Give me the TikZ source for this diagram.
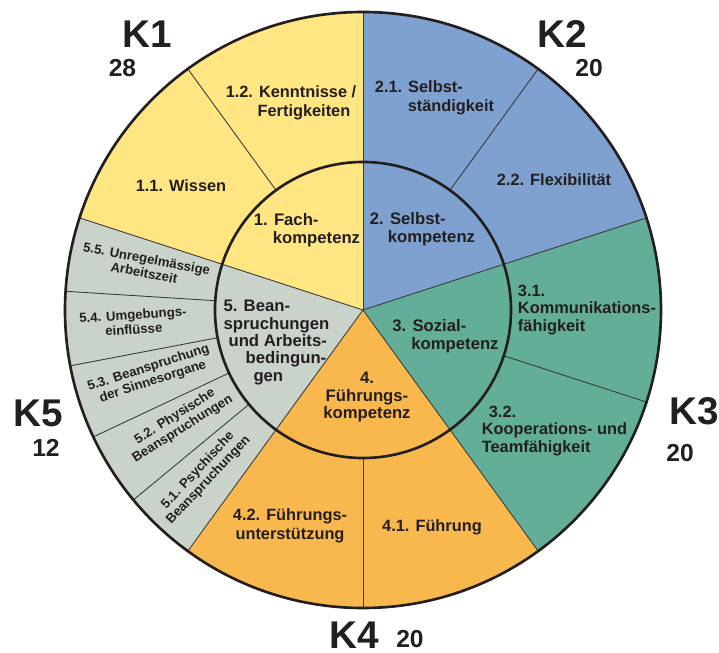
\documentclass[tikz,border=0pt]{standalone}
\usepackage{fontspec}
\setmainfont{Liberation Sans}
\usepackage{xcolor}
\usepackage{tikz}
\definecolor{kyellow}{HTML}{FFE682}
\definecolor{kblue}{HTML}{7FA1CF}
\definecolor{kgreen}{HTML}{63AE99}
\definecolor{korange}{HTML}{F8B84E}
\definecolor{kgray}{HTML}{C9D3CA}
\definecolor{txtblack}{HTML}{231F20}
\definecolor{divgray}{HTML}{3A3A3A}
\tikzset{
  divline/.style={draw=divgray, line width=0.5pt},
  ring/.style={draw=txtblack, line width=1.5pt},
  maintext/.style={font=\fontsize{9.5}{9.9}\selectfont\bfseries, text=txtblack,
                   inner sep=0pt, align=left},
  subtext/.style={font=\fontsize{9.3}{10.8}\selectfont\bfseries, text=txtblack,
                  inner sep=0pt, align=left},
  smalltext/.style={font=\fontsize{7.5}{8.2}\selectfont\bfseries, text=txtblack,
                    inner sep=0pt, align=center},
  klabel/.style={font=\fontsize{22}{22}\selectfont\bfseries, text=txtblack, inner sep=0pt},
  knum/.style={font=\fontsize{14}{14}\selectfont\bfseries, text=txtblack, inner sep=0pt}
}

\begin{document}
\begin{tikzpicture}

  \useasboundingbox (-7.26,-6.86) rectangle (7.12,6.2);
  \def\R{5.96}  % outer radius
  \def\r{2.96}  % inner radius

  % ===== Sectors K1..K5 =====
  \foreach \a/\c in {90/kyellow, 18/kblue, -54/kgreen, -126/korange, 162/kgray} {
    \fill[\c] (0,0) -- (\a:\R) arc[start angle=\a, end angle=\a+72, radius=\R] -- cycle;
  }

  % Sector borders
  \foreach \a in {90,18,-54,-126,162} {
    \draw[divline] (0,0) -- (\a:\R);
  }
  % Sub-sector borders (outer ring only)
  \foreach \a in {126,54,-18,-90,176.4,190.8,205.2,219.6} {
    \draw[divline] (\a:\r) -- (\a:\R);
  }

  % Rings
  \draw[ring] (0,0) circle[radius=\R];
  \draw[ring] (0,0) circle[radius=\r];

  % ===== Inner ring: competences =====
  \node[maintext] (fach)   at (-1.12,1.60) {1. Fach-\\\hspace*{10.8pt}kompetenz};
  \node[maintext] (selbst) at (1.19,1.62)  {2. Selbst-\\\hspace*{10.2pt}kompetenz};
  \node[maintext] (sozial) at (1.65,-0.52) {3. Sozial-\\\hspace*{10.8pt}kompetenz};
  \node[maintext, align=center] (fuehr) at (0.08,-1.74) {4.\\Führungs-\\kompetenz};
  \node[maintext] (beansp) at (-1.73,-0.65)
    {5. Bean-\\spruchungen\\\hspace*{2.8pt}und Arbeits-\\\hspace*{12.5pt}bedingun-\\\hspace*{17pt}gen};

  % ===== Outer ring: sub-competences =====
  \node[subtext] (wissen)  at (-3.64,2.48) {1.1. Wissen};
  \node[subtext, align=right] (kenntn) at (-1.44,4.15) {1.2. Kenntnisse /\\Fertigkeiten\hspace*{3.4pt}};
  \node[subtext] (selbstst) at (1.43,4.24) {2.1. Selbst-\\\hspace*{18.7pt}ständigkeit};
  \node[subtext] (flexib)  at (3.82,2.60) {2.2. Flexibilität};
  \node[subtext, font=\fontsize{9.3}{10.2}\selectfont\bfseries] (kommu) at (4.48,0.0)
    {3.1.\\Kommunikations-\\fähigkeit};
  \node[subtext, font=\fontsize{9.3}{10.2}\selectfont\bfseries] (koop) at (3.83,-2.42)
    {\hspace*{4pt}3.2.\\Kooperations- und\\Teamfähigkeit};
  \node[subtext] (fuehrung) at (1.38,-4.34) {4.1. Führung};
  \node[subtext, align=center] (unterst) at (-1.46,-4.31) {4.2. Führungs-\\unterstützung};

  % K5 labels run along the radius
  \node[smalltext, rotate=-10.8] (unregel) at (168.5:4.44) {5.5. Unregelmässige\\Arbeitszeit};
  \node[smalltext, rotate=3.6]   (umgeb)   at (183:4.6)    {5.4. Umgebungs-\\einflüsse};
  \node[smalltext, rotate=18]    (sinne)   at (197:4.44)   {5.3. Beanspruchung\\der Sinnesorgane};
  \node[smalltext, rotate=32.4]  (physis)  at (211.5:4.32) {5.2. Physische\\Beanspruchungen};
  \node[smalltext, rotate=46.8]  (psychis) at (226:4.6)    {5.1. Psychische\\Beanspruchungen};

  % ===== K labels with counts =====
  \node[klabel] (k1) at (-4.31,5.52) {K1};
  \node[knum]   (k1n) at (-4.81,4.84) {28};
  \node[klabel] (k2) at (3.99,5.52) {K2};
  \node[knum]   (k2n) at (4.52,4.83) {20};
  \node[klabel] (k3) at (6.62,-2.02) {K3};
  \node[knum]   (k3n) at (6.34,-2.86) {20};
  \node[klabel] (k4) at (-0.18,-6.5) {K4};
  \node[knum]   (k4n) at (0.94,-6.58) {20};
  \node[klabel] (k5) at (-6.50,-2.06) {K5};
  \node[knum]   (k5n) at (-6.34,-2.76) {12};

\end{tikzpicture}
\end{document}
